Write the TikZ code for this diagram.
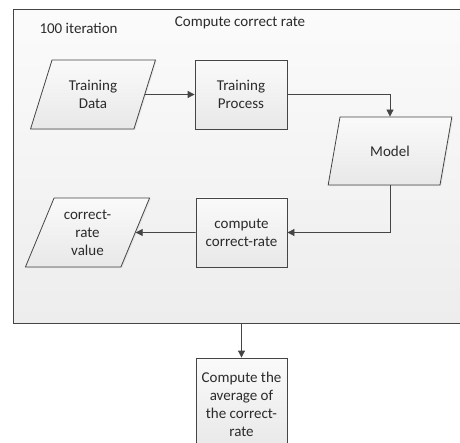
\documentclass[tikz,border=0pt]{standalone}
\usepackage{fontspec}
\setmainfont{Carlito}
\usetikzlibrary{shapes.geometric,arrows.meta,shadows}
\definecolor{ln}{HTML}{454545}
\definecolor{tx}{HTML}{2B2B2B}
\definecolor{ftop}{HTML}{FAFAFA}
\definecolor{fbot}{HTML}{E8E8E8}
\definecolor{ctop}{HTML}{FBFBFB}
\definecolor{cbot}{HTML}{EDEDED}
\begin{document}
\begin{tikzpicture}[x=1pt,y=-1pt,
  every node/.style={font=\fontsize{15}{18}\selectfont, text=tx},
  procbox/.style={draw=ln, line width=0.8pt, top color=ftop, bottom color=fbot,
    minimum width=91pt, minimum height=69pt, inner sep=0pt, align=center,
    drop shadow={opacity=0.12, shadow xshift=1.2pt, shadow yshift=-1.2pt}},
  databox/.style={draw=ln, line width=0.8pt, top color=ftop, bottom color=fbot,
    trapezium, trapezium left angle=66, trapezium right angle=114,
    trapezium stretches=true,
    minimum width=125pt, minimum height=69pt, inner sep=0pt, align=center,
    drop shadow={opacity=0.12, shadow xshift=1.2pt, shadow yshift=-1.2pt}},
  conn/.style={draw=ln, line width=0.8pt, -{Triangle[length=7pt,width=7pt]}},
  plainline/.style={draw=ln, line width=0.8pt}
]
\useasboundingbox (0,0) rectangle (460,443);
% container
\node[draw=ln, line width=0.8pt, top color=ctop, bottom color=cbot,
  minimum width=457pt, minimum height=314pt, inner sep=0pt, anchor=north west]
  (cont) at (13,9) {};
\node[anchor=west] (iter) at (36,28) {100 iteration};
\node (title) at (240,23) {Compute correct rate};
% nodes
\node[databox] (td) at (93,94.5) {Training\\Data};
\node[procbox, minimum width=92pt] (tp) at (241,94.5) {Training\\Process};
\node[databox, minimum width=124pt, minimum height=68pt] (model) at (390,151) {Model};
\node[procbox] (ccr) at (241.5,232.5) {compute\\correct-rate};
\node[databox] (crv) at (87.5,232.5) {correct-\\rate\\value};
\node[procbox, minimum height=92pt] (avg) at (241.5,404) {Compute the\\average of\\the correct-\\rate};
% connectors
\draw[conn] (td.east) -- (tp.west);
\draw[conn] (tp.east) -| (model.north);
\draw[conn] (model.south) |- (ccr.east);
\draw[conn] (ccr.west) -- (crv.east);
\draw[conn] (avg.north |- cont.south) -- (avg.north);
\end{tikzpicture}
\end{document}
